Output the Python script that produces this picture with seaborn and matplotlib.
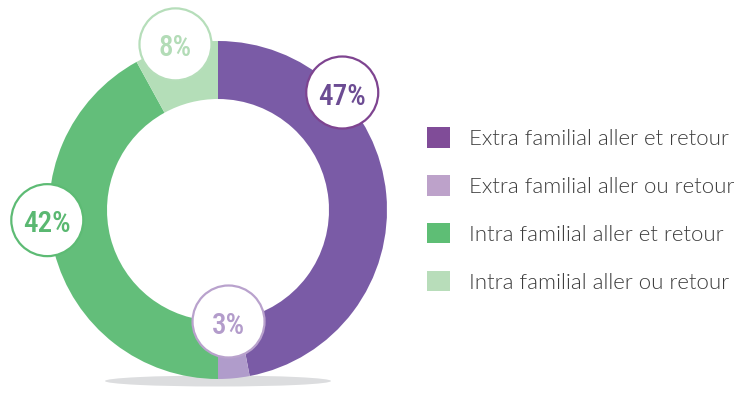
import numpy as np
import matplotlib
matplotlib.use("Agg")
import matplotlib.pyplot as plt
import seaborn as sns
from matplotlib.patches import Circle, Ellipse, Patch

# ---- data ----
categories = ["Extra familial aller et retour", "Extra familial aller ou retour",
              "Intra familial aller et retour", "Intra familial aller ou retour"]
values = [47, 3, 42, 8]
labels = ["47%", "3%", "42%", "8%"]

# ---- styles ----
ring_colors = ["#7A5BA6", "#B09CCB", "#63BE7A", "#B4DEB8"]
legend_colors = ["#804C98", "#BDA2CA", "#5EBE75", "#B8DDBA"]
label_edge = ["#7E4490", "#B9A2CD", "#5DBB74", "#B6DEBA"]
label_text = ["#6C4C93", "#B39CCB", "#5AB871", "#B3DCB7"]
label_angle_shift = [-38, 0, 11, 0]
label_radius = [171, 112, 171, 171]

sns.set_theme(style="white")
W, H = 737, 417
fig = plt.figure(figsize=(W / 100, H / 100), dpi=100)
ax = fig.add_axes([0, 0, 1, 1])
cx, cy = 218, H - 210
R, ring_w = 169, 58

ax.add_patch(Ellipse((cx, H - 381), 226, 11, facecolor="#DCDDDF", edgecolor="none", zorder=0))
wedges, _ = ax.pie(values, colors=ring_colors, startangle=90, counterclock=False,
                   radius=R, center=(cx, cy),
                   wedgeprops=dict(width=ring_w, linewidth=0, zorder=1))
ax.set_xlim(0, W)
ax.set_ylim(0, H)
ax.set_aspect("auto")
ax.axis("off")

cum = np.cumsum([0] + values)
total = float(sum(values))
for i, lab in enumerate(labels):
    mid = (cum[i] + cum[i + 1]) / 2 / total * 360 + label_angle_shift[i]
    a = np.deg2rad(mid)
    x = cx + label_radius[i] * np.sin(a)
    y = cy + label_radius[i] * np.cos(a)
    ax.add_patch(Circle((x, y), 36, facecolor="white", edgecolor=label_edge[i], lw=1.6, zorder=3))
    ax.text(x, y - 1, lab, ha="center", va="center_baseline", color=label_text[i], fontsize=21,
            fontweight=500, family=["Roboto Condensed", "DejaVu Sans"], zorder=4)

handles = [Patch(facecolor=c, edgecolor="none") for c in legend_colors]
fs = 16
fpx = fs * 100 / 72
leg = fig.legend(handles, categories, loc="center left",
                 bbox_to_anchor=(427 / W, (H - 210) / H), frameon=False,
                 handlelength=23 / fpx, handleheight=23 / fpx,
                 labelspacing=1.17, handletextpad=19 / fpx, borderpad=0, borderaxespad=0,
                 prop=dict(family=["Lato", "DejaVu Sans"], weight=300, size=fs))
for t in leg.get_texts():
    t.set_color("#3C3C3C")

fig.savefig("out.png", dpi=100)
